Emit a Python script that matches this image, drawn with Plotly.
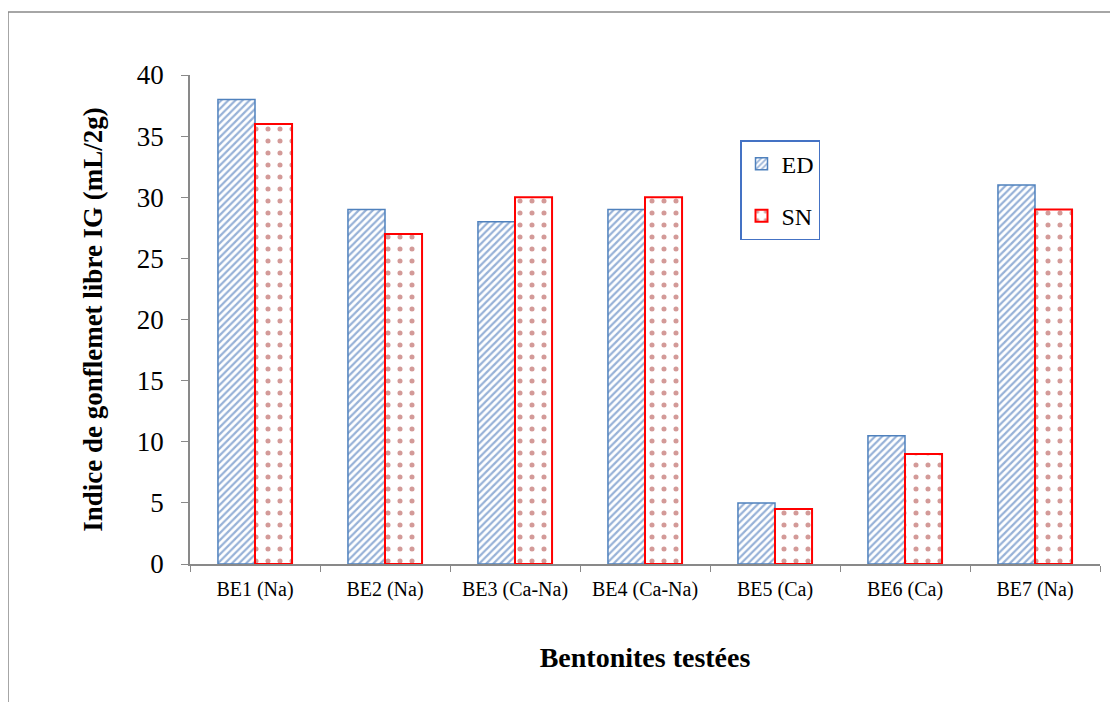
import plotly.graph_objects as go

categories = ["BE1 (Na)", "BE2 (Na)", "BE3 (Ca-Na)", "BE4 (Ca-Na)", "BE5 (Ca)", "BE6 (Ca)", "BE7 (Na)"]
ed_values = [38, 29, 28, 29, 5, 10.5, 31]
sn_values = [36, 27, 30, 30, 4.5, 9, 29]
y_ticks = [0, 5, 10, 15, 20, 25, 30, 35, 40]

serif = "Liberation Serif, Times New Roman, serif"

fig = go.Figure()
fig.add_trace(go.Bar(
    x=categories, y=ed_values, name="ED", legendgroup="a",
    marker=dict(color="white", line=dict(color="#4F81BD", width=1.5),
                pattern=dict(shape="/", fgcolor="#2F64B0", bgcolor="white", size=5, solidity=0.45)),
))
fig.add_trace(go.Bar(
    x=categories, y=sn_values, name="SN", legendgroup="b",
    marker=dict(color="white", line=dict(color="#FF0000", width=2),
                pattern=dict(shape=".", fgcolor="#A83532", bgcolor="white", size=12, solidity=0.14)),
))

fig.update_layout(
    width=1118, height=702,
    margin=dict(l=182, r=26, t=67, b=146),
    paper_bgcolor="white", plot_bgcolor="white",
    barmode="group", bargap=0.43, bargroupgap=0,
    font=dict(family=serif, color="black"),
    showlegend=True,
    legend=dict(x=0.6044, y=0.867, xanchor="left", yanchor="top",
                bordercolor="#4472C4", borderwidth=1.5, bgcolor="white",
                font=dict(size=24, family=serif), tracegroupgap=18,
                traceorder="grouped", itemwidth=30),
    xaxis=dict(showline=True, linecolor="#898989", linewidth=1.5,
               ticks="outside", tickson="boundaries", ticklen=6, tickcolor="#898989",
               tickfont=dict(size=20, family=serif), ticklabelstandoff=6,
               title=dict(text="<b>Bentonites testées</b>", font=dict(size=28, family=serif), standoff=48)),
    yaxis=dict(range=[0, 40], tickvals=y_ticks, showline=True, linecolor="#898989", linewidth=1.5,
               ticks="outside", ticklen=7, tickcolor="#898989", showgrid=False, zeroline=False,
               tickfont=dict(size=27, family=serif), ticklabelstandoff=12,
               title=dict(text="<b>Indice de gonflemet libre IG (mL/2g)</b>", font=dict(size=27, family=serif), standoff=26)),
    shapes=[dict(type="rect", xref="paper", yref="paper", x0=-0.2, x1=1.2, y0=-0.4, y1=1.1288,
                 line=dict(color="#898989", width=1.5), fillcolor="rgba(0,0,0,0)", layer="below")],
)

fig.write_html("out.html")
